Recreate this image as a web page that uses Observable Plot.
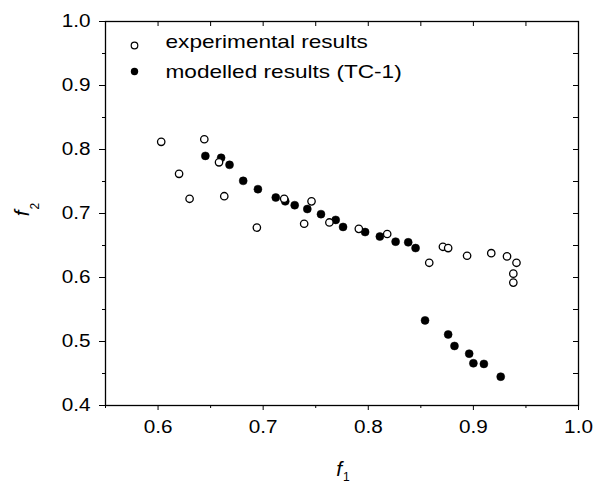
<!DOCTYPE html>
<html><head><meta charset="utf-8">
<script src="https://cdn.jsdelivr.net/npm/d3@7"></script>
<script src="https://cdn.jsdelivr.net/npm/@observablehq/plot@0.6"></script>
<style>
body{margin:0;background:#fff;}
</style></head><body><div id="chart"></div>
<script>
const expF1 = [0.603,0.620,0.630,0.644,0.658,0.663,0.694,0.720,0.739,0.746,0.763,0.791,0.818,0.858,0.871,0.876,0.894,0.917,0.932,0.941,0.938,0.938];
const expF2 = [0.812,0.762,0.723,0.816,0.780,0.727,0.678,0.723,0.684,0.719,0.686,0.676,0.668,0.623,0.648,0.646,0.634,0.638,0.633,0.623,0.606,0.592];
const modF1 = [0.645,0.660,0.668,0.681,0.695,0.712,0.721,0.730,0.742,0.755,0.769,0.776,0.797,0.811,0.826,0.838,0.845,0.854,0.876,0.882,0.896,0.900,0.910,0.926];
const modF2 = [0.790,0.787,0.776,0.751,0.738,0.725,0.719,0.713,0.707,0.699,0.690,0.679,0.671,0.664,0.656,0.655,0.646,0.533,0.511,0.493,0.481,0.466,0.465,0.445];
const xMajor = [0.6,0.7,0.8,0.9,1.0];
const xMinor = [0.55,0.65,0.75,0.85,0.95];
const yMajor = [0.4,0.5,0.6,0.7,0.8,0.9,1.0];
const yMinor = [0.45,0.55,0.65,0.75,0.85,0.95];
const legendLabels = ["experimental results","modelled results (TC-1)"];
const xTitle = ["f","1"];
const yTitle = ["f","2"];

const exp = expF1.map((v,i)=>({f1:v,f2:expF2[i]}));
const mod = modF1.map((v,i)=>({f1:v,f2:modF2[i]}));
const fmt = d3.format(".1f");
const font = "'Liberation Sans', Arial, sans-serif";

const plot = Plot.plot({
  width:593, height:483,
  marginLeft:105, marginRight:15, marginTop:21, marginBottom:78,
  x:{domain:[0.55,1.0]},
  y:{domain:[0.4,1.0]},
  style:{fontFamily:font, fontSize:"18px", color:"black", background:"white"},
  marks:[
    Plot.axisX({ticks:xMajor, tickSize:5, tickPadding:10, tickFormat:fmt, label:null, fontSize:18}),
    Plot.axisX({ticks:xMinor, tickSize:3, tickFormat:()=>"", label:null}),
    Plot.axisY({ticks:yMajor, tickSize:6, tickPadding:9, tickFormat:fmt, label:null, fontSize:18}),
    Plot.axisY({ticks:yMinor, tickSize:3, tickFormat:()=>"", label:null}),
    Plot.tickX([...xMajor,...xMinor], {x:d=>d, insetBottom:379, stroke:"black"}),
    Plot.tickY([...yMajor,...yMinor], {y:d=>d, insetLeft:468, stroke:"black"}),
    Plot.frame({stroke:"black", strokeWidth:1.3}),
    Plot.dot(mod, {x:"f1", y:"f2", r:4, fill:"black", stroke:"black", strokeWidth:0.5}),
    Plot.dot(exp, {x:"f1", y:"f2", r:3.7, fill:"white", stroke:"black", strokeWidth:1.3}),
    Plot.dot([legendLabels[0]], {frameAnchor:"top-left", dx:29, dy:24, r:3.3, fill:"white", stroke:"black", strokeWidth:1.2}),
    Plot.dot([legendLabels[1]], {frameAnchor:"top-left", dx:29, dy:50, r:3.7, fill:"black"}),
    Plot.text([legendLabels[0]], {text:d=>d, frameAnchor:"top-left", dx:60, dy:20, textAnchor:"start", lineAnchor:"middle", fontSize:19, fill:"black"}),
    Plot.text([legendLabels[1]], {text:d=>d, frameAnchor:"top-left", dx:60, dy:50, textAnchor:"start", lineAnchor:"middle", fontSize:19, fill:"black"}),
    Plot.text([xTitle[0]], {text:d=>d, frameAnchor:"bottom", dx:0, dy:70, textAnchor:"end", lineAnchor:"bottom", fontSize:21, fontStyle:"italic", fill:"black"}),
    Plot.text([xTitle[1]], {text:d=>d, frameAnchor:"bottom", dx:1, dy:75, textAnchor:"start", lineAnchor:"bottom", fontSize:12, fill:"black"}),
    Plot.text([yTitle[0]], {text:d=>d, frameAnchor:"left", dx:-77, dy:-3, rotate:-90, textAnchor:"end", lineAnchor:"bottom", fontSize:21, fontStyle:"italic", fill:"black"}),
    Plot.text([yTitle[1]], {text:d=>d, frameAnchor:"left", dx:-67, dy:-4, rotate:-90, textAnchor:"start", lineAnchor:"bottom", fontSize:12, fill:"black"})
  ]
});
document.getElementById("chart").append(plot);
function stretchEl(t, k){
  const w = t.getComputedTextLength();
  if (w > 0) { t.setAttribute("textLength", (w*k).toFixed(1)); t.setAttribute("lengthAdjust","spacingAndGlyphs"); }
}
plot.querySelectorAll('g[aria-label="x-axis tick label"] text, g[aria-label="y-axis tick label"] text').forEach(t=>stretchEl(t, 1.15));
plot.querySelectorAll('text').forEach(t=>{ if (legendLabels.includes(t.textContent)) stretchEl(t, 1.19); });
</script></body></html>
